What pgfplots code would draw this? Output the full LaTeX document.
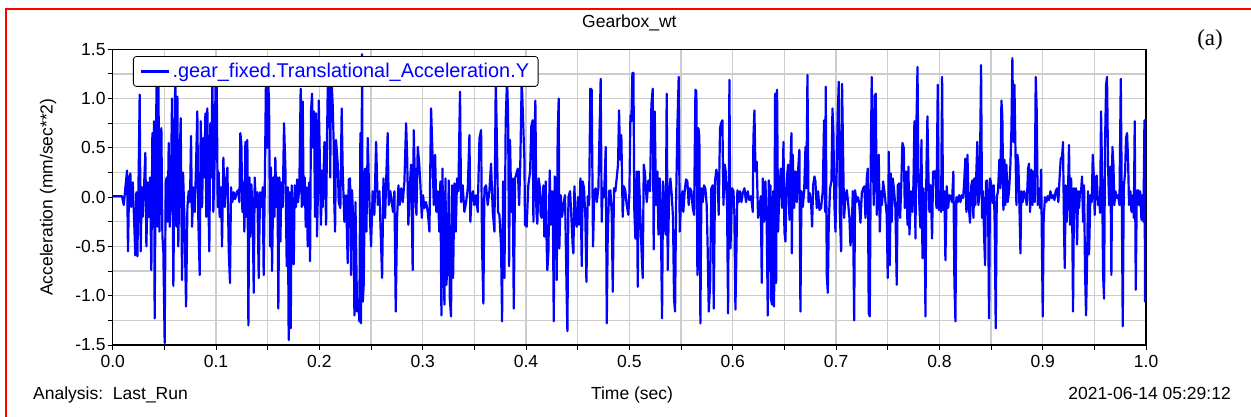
\documentclass[border=0pt]{standalone}
\usepackage{pgfplots}
\pgfplotsset{compat=1.18}
\usepackage{fontspec}
\setmainfont{Liberation Sans}
\newfontfamily\serif{Liberation Serif}
\newcommand\fsize{\fontsize{17.5bp}{21bp}\selectfont}
\newcommand\lsize{\fontsize{19.9bp}{23bp}\selectfont}
\begin{document}
\begin{tikzpicture}
\useasboundingbox (-112.7bp,-72bp) rectangle (1138.3bp,345bp);
\begin{axis}[
  at={(0,0)}, anchor=south west, scale only axis,
  width=1033.4bp, height=295.7bp,
  xmin=0, xmax=1, ymin=-1.5, ymax=1.5,
  xtick={0,0.1,0.2,0.3,0.4,0.5,0.6,0.7,0.8,0.9,1},
  xticklabels={0.0,0.1,0.2,0.3,0.4,0.5,0.6,0.7,0.8,0.9,1.0},
  minor xtick={0.05,0.15,0.25,0.35,0.45,0.55,0.65,0.75,0.85,0.95},
  ytick={-1.5,-1,-0.5,0,0.5,1,1.5},
  yticklabels={-1.5,-1.0,-0.5,0.0,0.5,1.0,1.5},
  minor ytick={-1.25,-0.75,-0.25,0.25,0.75,1.25},
  grid=both,
  major grid style={draw=gray!40, line width=1.2bp},
  minor grid style={draw=gray!40, line width=1.2bp},
  tick pos=left, tick align=outside,
  major tick length=5bp, minor tick length=5bp,
  every tick/.style={black, line width=1bp},
  axis line style={black, line width=1.3bp},
  tick label style={font=\fsize},
  xticklabel style={anchor=base, yshift=-17bp},
  yticklabel style={anchor=east, inner sep=0pt, xshift=-2bp},
  title={Gearbox\_wt},
  title style={font=\fsize, at={(axis description cs:0.5,1)}, anchor=base, yshift=15.8bp, inner sep=0pt},
  ylabel={Acceleration (mm/sec**2)},
  ylabel style={font=\fsize, at={(axis description cs:-0.0625,0.5)}, anchor=center},
  legend style={at={(axis description cs:0.0196,0.977)}, anchor=north west,
    draw=black, line width=0.8bp, rounded corners=3bp, fill=white,
    font=\lsize, text=blue, inner xsep=7bp, inner ysep=5bp},
  legend cell align=left,
  legend image code/.code={\draw[blue, line width=2.2bp] (0bp,0bp) -- (28bp,0bp);},
]
\addplot[blue, line width=2.2bp, line join=round, no markers] coordinates {
(0,0.01) (0.009,0.01) (0.0107,-0.08) (0.0123,0.1) (0.0139,0.27) (0.0148,-0.55) (0.016,0.2) (0.0171,0.24) (0.018,-0.1) (0.0194,0.15) (0.0206,-0.2) (0.0219,-0.59) (0.0229,0.05) (0.0239,-0.6) (0.0252,0.3) (0.0261,1.04) (0.0271,-0.55) (0.0281,0.1) (0.029,-0.2) (0.0303,0.1) (0.0316,0.45) (0.0326,-0.5) (0.0339,0.15) (0.0348,-0.2) (0.0361,0.2) (0.0374,-0.74) (0.0384,0.65) (0.0394,-0.3) (0.04,0.77) (0.0406,-1.23) (0.0416,0.3) (0.0426,1.3) (0.0435,-0.3) (0.0442,1.25) (0.0452,-0.35) (0.0461,0.3) (0.0471,0.7) (0.0481,-0.4) (0.049,-0.55) (0.0503,-1.48) (0.0513,0.15) (0.0523,0.2) (0.0532,-0.25) (0.0542,0.55) (0.0552,-0.3) (0.0565,0.2) (0.0574,1.0) (0.0587,-0.9) (0.0597,0.3) (0.0606,1.3) (0.0616,-0.3) (0.0626,1.02) (0.0635,-0.5) (0.0645,0.2) (0.0658,0.8) (0.0671,-0.84) (0.0681,0.25) (0.0694,-0.2) (0.071,-1.11) (0.0723,-0.1) (0.0735,0.06) (0.0748,-0.05) (0.0758,0.62) (0.0768,-0.3) (0.0781,0.1) (0.0794,-0.15) (0.0806,0.3) (0.0819,0.87) (0.0829,-0.25) (0.0842,-0.79) (0.0852,0.77) (0.0865,-0.1) (0.0877,0.6) (0.0887,0.2) (0.0897,0.85) (0.0906,-0.2) (0.0916,0.9) (0.0926,-0.05) (0.0935,-0.55) (0.0945,0.75) (0.0955,0.2) (0.0965,1.3) (0.0974,-0.15) (0.0987,0.4) (0.0997,1.3) (0.1006,1.25) (0.1016,-0.1) (0.1026,0.25) (0.1035,-0.2) (0.1048,0.1) (0.1058,-0.5) (0.1071,0.4) (0.1084,-0.1) (0.1097,0.15) (0.111,0.3) (0.1123,-0.55) (0.1135,-0.87) (0.1145,0.1) (0.1158,-0.05) (0.1171,0.05) (0.1184,-0.02) (0.12,0.05) (0.1213,0.07) (0.1226,-0.05) (0.1235,0.65) (0.1245,0.55) (0.1255,-0.15) (0.1265,0.15) (0.1274,-0.35) (0.1284,0.56) (0.1294,-0.2) (0.1303,0.58) (0.1313,-1.3) (0.1323,0.2) (0.1332,-0.4) (0.1342,0.13) (0.1355,-0.2) (0.1365,-0.97) (0.1374,0.2) (0.1387,-0.1) (0.14,0.05) (0.1413,-0.82) (0.1426,0.05) (0.1439,-0.1) (0.1452,0.1) (0.1461,-0.79) (0.1474,0.3) (0.1484,1.3) (0.1494,0.5) (0.1503,1.2) (0.1513,0.97) (0.1523,-0.5) (0.1532,0.3) (0.1542,-0.75) (0.1555,0.2) (0.1565,-0.2) (0.1574,0.4) (0.1584,-0.1) (0.1594,0.2) (0.1603,-1.13) (0.1613,0.2) (0.1623,-0.45) (0.1632,0.15) (0.1645,-0.1) (0.1658,0.75) (0.1671,0.3) (0.1684,-0.7) (0.1694,0.1) (0.1703,-1.45) (0.1713,0.05) (0.1723,-1.33) (0.1732,0.12) (0.1742,-0.45) (0.1752,-0.68) (0.1761,0.12) (0.1774,-0.1) (0.1784,0.18) (0.1794,-0.05) (0.1806,0.1) (0.1819,1.1) (0.1829,-0.1) (0.1839,0.97) (0.1848,-0.08) (0.1858,0.2) (0.1868,-0.3) (0.1877,0.1) (0.1887,-0.5) (0.19,0.15) (0.191,-0.65) (0.1919,0.87) (0.1929,1.05) (0.1939,0.5) (0.1948,0.87) (0.1958,-0.2) (0.1968,0.85) (0.1977,-0.4) (0.1987,0.1)
(0.1994,0.98) (0.2016,-0.28) (0.2023,0.27) (0.2032,-0.1) (0.2049,0.56) (0.2065,-0.28) (0.2074,0.6) (0.2081,1.1) (0.2097,1.3) (0.2105,0.2) (0.2113,1.3) (0.2129,0.93) (0.2139,0.53) (0.2145,-0.08) (0.2152,-0.35) (0.2161,0.58) (0.2178,0.33) (0.2187,-0.05) (0.2203,-0.11) (0.2216,0.9) (0.2226,0.26) (0.2242,-0.25) (0.2258,0.02) (0.2274,-0.67) (0.2284,0.18) (0.2297,0.19) (0.2307,-0.79) (0.2316,0.07) (0.2332,-0.35) (0.2339,-1.2) (0.2349,-0.05) (0.2365,-1.16) (0.2378,-1.06) (0.2387,-1.26) (0.2397,0.65) (0.2403,-1.28) (0.2413,1.45) (0.242,-1.06) (0.2429,-0.89) (0.2442,0.29) (0.2455,-0.35) (0.2468,0.6) (0.2484,-0.05) (0.25,-0.5) (0.2516,0.06) (0.2532,-0.18) (0.2549,0.56) (0.2565,-0.08) (0.2581,0.06) (0.2597,-0.48) (0.2607,-0.82) (0.262,0.19) (0.2636,-0.21) (0.2649,0.26) (0.2661,0.65) (0.2671,-0.08) (0.2687,0.06) (0.27,-0.05) (0.2713,-0.15) (0.2726,0.06) (0.2739,-1.16) (0.2752,-0.21) (0.2765,0.12) (0.2778,-0.08) (0.2791,0.09) (0.2807,-0.05) (0.2823,0.16) (0.2839,0.75) (0.2849,0.43) (0.2861,-0.28) (0.2874,0.09) (0.2887,0.33) (0.2903,-0.74) (0.2913,0.68) (0.2926,0.12) (0.2939,-0.18) (0.2952,0.51) (0.2965,0.36) (0.2978,0.12) (0.2991,-0.21) (0.3003,0.02) (0.3016,-0.11) (0.3032,-0.05) (0.3049,-0.15) (0.3065,-0.35) (0.3081,0.9) (0.3094,0.46) (0.3107,-0.08) (0.312,0.43) (0.3132,-0.15) (0.3145,0.06) (0.3161,-0.35) (0.3171,0.16) (0.3181,-1.2) (0.3191,0.29) (0.32,-0.54) (0.321,-1.09) (0.322,0.19) (0.3229,-0.89) (0.3242,-0.65) (0.3252,0.17) (0.3262,-1.03) (0.3274,-1.21) (0.3284,0.12) (0.3294,-0.82) (0.3307,0.14) (0.332,-0.35) (0.3332,0.19) (0.3345,0.06) (0.3361,1.07) (0.3371,-0.05) (0.3387,0.12) (0.3403,-0.15) (0.342,-0.05) (0.3436,0.09) (0.3452,0.63) (0.3461,-0.25) (0.3474,0.02) (0.3487,0.06) (0.35,-0.08) (0.3516,0.02) (0.3532,-0.15) (0.3549,0.6) (0.3565,0.68) (0.3574,-0.5) (0.3587,-1.08) (0.3597,0.09) (0.3613,0.12) (0.3629,-0.08) (0.3645,0.06) (0.3661,0.34) (0.3678,-0.15) (0.3694,-0.35) (0.3707,1.2) (0.3716,0.67) (0.3729,-0.15) (0.3742,-0.18) (0.3758,-0.49) (0.3768,-1.26) (0.3778,0.16) (0.3791,-0.82) (0.3803,0.77) (0.3816,1.2) (0.3826,0.85) (0.3836,-0.7) (0.3845,0.58) (0.3858,-0.15) (0.3871,0.19) (0.3881,-1.13) (0.3894,0.19) (0.3907,0.24) (0.392,0.29) (0.3933,-0.08) (0.3945,0.38) (0.3958,1.2)
(0.3984,0.38) (0.399,-0.28) (0.4006,-0.3) (0.4022,0.12) (0.4039,0.26) (0.4051,0.72) (0.4064,0.78) (0.4071,-0.25) (0.408,0.51) (0.409,0.98) (0.41,-0.15) (0.4109,-0.27) (0.4122,0.19) (0.4135,0.09) (0.4141,-0.18) (0.4151,-0.21) (0.4168,0.12) (0.4177,-0.4) (0.419,0.16) (0.42,-0.52) (0.4206,-0.74) (0.4216,-0.57) (0.4229,0.27) (0.4239,-0.28) (0.4251,0.06) (0.4261,-0.35) (0.4268,-1.26) (0.4277,0.21) (0.429,0.16) (0.4297,-0.84) (0.4306,0.65) (0.4316,1.0) (0.4322,-0.52) (0.4335,0.02) (0.4348,-0.2) (0.4361,-0.08) (0.4377,0.02) (0.4393,-0.99) (0.44,-1.36) (0.441,0.0) (0.4426,0.06) (0.4442,-0.28) (0.4451,-0.49) (0.4458,-0.57) (0.4468,0.11) (0.448,-0.25) (0.449,-0.3) (0.4503,0.0) (0.4513,-0.28) (0.4526,0.19) (0.4539,-0.7) (0.4548,0.16) (0.4561,0.09) (0.4574,-0.21) (0.4584,-0.86) (0.4597,0.01) (0.461,-0.08) (0.4622,1.1) (0.4635,1.09) (0.4648,-0.5) (0.4661,0.06) (0.4674,0.09) (0.4684,-0.05) (0.47,0.09) (0.471,0.61) (0.4722,1.2) (0.4732,-0.25) (0.4742,0.09) (0.4755,0.0) (0.4771,0.51) (0.4781,-1.28) (0.479,-0.42) (0.4803,0.06) (0.4816,0.07) (0.4829,-0.16) (0.4839,-0.96) (0.4851,0.09) (0.4864,0.06) (0.4877,0.19) (0.489,0.33) (0.49,0.88) (0.491,0.38) (0.4922,0.63) (0.4935,-0.2) (0.4948,0.11) (0.4961,0.06) (0.4974,-0.08) (0.499,-0.18) (0.5,0.04) (0.501,0.83) (0.5019,0.77) (0.5029,1.26) (0.5039,1.26) (0.5048,-0.15) (0.5058,-0.42) (0.5071,0.26) (0.5081,-0.91) (0.509,0.26) (0.5103,-0.08) (0.5119,-0.59) (0.5129,-0.82) (0.5139,0.33) (0.5151,0.24) (0.5168,-0.05) (0.5184,0.17) (0.52,0.06) (0.5213,0.94) (0.5226,1.1) (0.5235,-0.53) (0.5245,0.87) (0.5258,-0.08) (0.5271,0.26) (0.5281,-0.38) (0.5293,0.19) (0.5303,-0.11) (0.5316,-1.23) (0.5326,0.16) (0.5339,-0.28) (0.5352,-0.38) (0.5361,1.05) (0.5371,-0.74) (0.5384,0.02) (0.5397,0.19) (0.541,0.02) (0.5422,-0.21) (0.5432,-1.03) (0.5442,-1.16) (0.5452,-0.05) (0.5464,0.7) (0.5477,1.22) (0.5487,-0.35) (0.55,-0.05) (0.5513,0.06) (0.5522,-0.15) (0.5535,0.06) (0.5548,0.18) (0.5561,0.16) (0.5574,-0.08) (0.5587,0.09) (0.56,0.06) (0.5613,-0.11) (0.5626,-0.18) (0.5639,1.09) (0.5648,1.07) (0.5658,-0.79) (0.5668,0.7) (0.5677,0.61) (0.5687,-1.28) (0.5697,0.09) (0.571,-0.05) (0.5722,0.12) (0.5735,0.09) (0.5748,-0.08) (0.5758,-0.55) (0.5768,-1.16) (0.5781,-0.89) (0.5793,0.09) (0.5806,0.12) (0.5816,-1.13) (0.5829,0.17) (0.5842,0.28) (0.5855,0.16) (0.5864,-0.18) (0.5877,0.7) (0.5887,0.75) (0.59,0.78) (0.591,-0.08) (0.5922,0.33) (0.5932,0.26) (0.5945,-0.08) (0.5955,-1.18)
(0.5968,1.19) (0.5978,-0.52) (0.5994,0.09) (0.6007,0.06) (0.6016,-0.18) (0.6026,-1.14) (0.6032,-0.79) (0.6045,0.07) (0.6058,-0.05) (0.6071,0.06) (0.6084,-0.05) (0.6097,0.04) (0.6113,0.09) (0.6129,-0.05) (0.6145,0.06) (0.6161,-0.03) (0.6178,0.01) (0.6194,-0.15) (0.62,0.6) (0.621,0.88) (0.622,0.26) (0.6232,0.36) (0.6245,-0.21) (0.6258,-0.13) (0.6271,0.01) (0.6281,-0.87) (0.6291,0.19) (0.6303,-0.25) (0.6316,0.16) (0.6329,-0.28) (0.6339,-1.2) (0.6349,0.17) (0.6355,-0.75) (0.6365,0.12) (0.6371,-1.04) (0.6381,-1.09) (0.6391,0.06) (0.64,-1.11) (0.641,1.05) (0.642,-0.87) (0.6429,1.09) (0.6439,-0.35) (0.6452,0.09) (0.6465,0.29) (0.6478,-0.11) (0.6491,0.56) (0.65,-0.35) (0.651,-0.45) (0.6523,0.19) (0.6536,0.33) (0.6549,-0.23) (0.6558,0.31) (0.6568,0.65) (0.6572,-0.57) (0.6581,0.43) (0.6594,-0.11) (0.6607,0.26) (0.662,-0.05) (0.6633,0.28) (0.6645,0.48) (0.6655,-1.16) (0.6665,0.06) (0.6678,-0.1) (0.6691,0.06) (0.6704,0.51) (0.6713,0.09) (0.6723,1.24) (0.6733,-0.05) (0.6746,0.04) (0.6758,-0.05) (0.6768,-0.3) (0.6778,0.12) (0.6791,0.21) (0.68,0.16) (0.6813,-0.11) (0.6826,0.06) (0.6839,-0.13) (0.6855,-0.11) (0.6871,0.06) (0.6884,0.78) (0.6894,-0.15) (0.69,1.12) (0.691,-0.79) (0.692,-0.97) (0.6929,-0.28) (0.6942,0.09) (0.6955,0.16) (0.6965,0.9) (0.6974,0.66) (0.6984,-0.08) (0.6994,-0.35) (0.7004,0.16) (0.7016,0.83) (0.7026,1.17) (0.7036,-0.16) (0.7049,-0.55) (0.7058,1.15) (0.7068,0.43) (0.7078,-0.21) (0.7091,0.02) (0.7104,0.07) (0.7116,-0.05) (0.7129,-0.21) (0.7139,-0.49) (0.7149,-0.4) (0.7162,0.06) (0.7175,-1.25) (0.7184,0.07) (0.7197,-0.05) (0.721,0.0) (0.7223,-0.05) (0.7236,-0.26) (0.7249,0.04) (0.7262,0.09) (0.7275,0.11) (0.7284,-0.21) (0.7297,0.19) (0.7307,0.29) (0.7316,-1.18) (0.7326,-1.21) (0.7336,0.39) (0.7345,1.22) (0.7355,0.43) (0.7365,-0.08) (0.7375,1.03) (0.7384,1.05) (0.7394,-0.18) (0.7404,0.26) (0.7413,0.43) (0.7423,-0.35) (0.7436,0.06) (0.7445,-0.08) (0.7455,0.16) (0.7468,0.06) (0.7481,-0.08) (0.749,-0.18) (0.75,-0.82) (0.751,0.46) (0.752,-0.69) (0.7529,0.24) (0.7539,-0.25) (0.7549,0.19) (0.7562,0.06) (0.7574,-0.11) (0.7587,-0.89) (0.7597,0.12) (0.761,0.14) (0.762,-0.21) (0.7632,0.16) (0.7642,0.55) (0.7655,0.5) (0.7665,-0.11) (0.7678,0.26) (0.7691,-0.28) (0.77,0.31) (0.771,-0.38) (0.7726,0.06) (0.7739,-0.15) (0.7749,0.14) (0.7758,0.77) (0.7768,-0.42) (0.7778,0.77) (0.7788,1.32) (0.7797,0.19) (0.7807,-0.11) (0.7816,-0.31) (0.7826,0.58) (0.7836,-0.62) (0.7845,0.09) (0.7855,-0.08) (0.7865,-1.21) (0.7874,0.26) (0.7884,0.82) (0.7894,0.21) (0.7903,-0.15) (0.7916,0.12) (0.7929,-0.42) (0.7939,0.26) (0.7952,0.26)
(0.7961,0.26) (0.7971,-0.11) (0.7984,1.14) (0.7993,-0.13) (0.8006,0.06) (0.8016,-0.15) (0.8026,1.22) (0.8035,-0.13) (0.8048,0.06) (0.8058,-0.64) (0.8071,0.11) (0.8084,-0.11) (0.8097,0.02) (0.811,0.0) (0.8122,-0.05) (0.8135,0.26) (0.8145,-0.86) (0.8155,-1.26) (0.8164,0.0) (0.8177,-0.05) (0.819,0.02) (0.8203,-0.05) (0.8216,0.02) (0.8229,-0.01) (0.8238,0.12) (0.8251,0.39) (0.8261,-0.15) (0.8271,0.43) (0.8284,-0.08) (0.8296,-0.26) (0.8309,0.12) (0.8319,0.17) (0.8329,-0.21) (0.8338,0.19) (0.8348,-0.08) (0.8358,0.28) (0.8367,0.56) (0.8377,-0.08) (0.839,0.06) (0.8403,1.34) (0.8413,-0.21) (0.8422,0.06) (0.8432,-0.38) (0.8442,-0.69) (0.8451,0.16) (0.8461,0.17) (0.8471,-0.08) (0.848,-1.23) (0.849,0.19) (0.8503,0.12) (0.8513,-0.06) (0.8526,0.12) (0.8535,-0.28) (0.8545,-1.33) (0.8555,0.0) (0.8567,0.06) (0.858,0.38) (0.859,0.09) (0.86,0.98) (0.8609,0.82) (0.8619,-0.13) (0.8629,0.38) (0.8638,-0.08) (0.8648,0.33) (0.8661,-0.05) (0.8674,0.06) (0.8687,0.33) (0.8697,0.7) (0.8706,1.41) (0.8716,0.56) (0.8726,1.14) (0.8735,0.53) (0.8745,-0.08) (0.8755,0.43) (0.8764,0.34) (0.8774,-0.08) (0.8784,-0.57) (0.8793,0.06) (0.8806,-0.05) (0.8819,0.06) (0.8832,0.02) (0.8845,-0.08) (0.8858,0.29) (0.8867,0.34) (0.8877,-0.15) (0.889,0.28) (0.89,-0.08) (0.8909,0.26) (0.8922,-0.05) (0.8932,1.22) (0.8942,0.87) (0.8951,-0.08) (0.8961,0.09) (0.8974,-0.11) (0.8984,0.28) (0.8993,-0.58) (0.9,-1.21) (0.9009,-0.21) (0.9022,0.0) (0.9035,-0.05) (0.9048,0.01) (0.9061,-0.03) (0.9074,0.06) (0.9087,-0.01) (0.91,0.02) (0.9113,-0.03) (0.9125,0.06) (0.9138,0.09) (0.9151,-0.05) (0.9161,0.16) (0.9174,0.39) (0.9187,0.41) (0.9196,0.56) (0.9206,-0.35) (0.9213,-0.72) (0.9222,0.12) (0.9232,-0.25) (0.9245,0.09) (0.9254,0.53) (0.9264,-0.28) (0.9274,0.19) (0.9284,-0.08) (0.9293,-1.16) (0.9303,0.09) (0.9313,-0.15) (0.9322,0.09) (0.9332,-0.48) (0.9342,0.06) (0.9351,-0.11) (0.9361,0.06) (0.9371,0.06) (0.938,0.21) (0.939,-0.25) (0.94,0.12) (0.9409,-0.75) (0.9419,-1.2) (0.9429,-0.65) (0.9438,0.06) (0.9448,-0.58) (0.9461,0.02) (0.9474,-0.05) (0.9484,0.43) (0.9493,0.24) (0.9503,-0.18) (0.9513,0.19) (0.9522,0.22) (0.9535,-0.08) (0.9545,0.0) (0.9555,-0.16) (0.9564,0.87) (0.9574,0.26) (0.9584,-0.79) (0.9593,-1.03) (0.9603,0.56) (0.9613,1.14) (0.9622,1.22) (0.9632,0.32) (0.9642,-0.08) (0.9655,0.31) (0.9664,-0.79) (0.9674,0.51) (0.9684,0.33) (0.9693,-0.08) (0.9703,0.06) (0.9716,-0.01) (0.9729,0.02) (0.9742,-0.08) (0.9755,1.2) (0.9764,0.09) (0.9774,-1.31) (0.9784,0.09) (0.9797,0.26) (0.9806,0.6) (0.9816,0.65) (0.9826,0.36) (0.9835,-0.08) (0.9848,0.06) (0.9858,-0.15) (0.9871,0.02) (0.9881,-0.21) (0.989,0.77) (0.99,-0.94) (0.991,0.06) (0.9922,0.07) (0.9932,-0.08) (0.9942,0.06) (0.9955,-0.23) (0.9964,0.02) (0.9974,-0.25) (0.9984,0.78) (0.999,-1.06) (0.9994,0.77) (1.0,0.29)
};
\addlegendentry{.gear\_fixed.Translational\_Acceleration.Y}
\end{axis}
\draw[red, line width=1.2bp] (-106.7bp,-72bp) -- (-106.7bp,336bp) -- (1140bp,336bp);
\node[font=\serif\fontsize{23bp}{26bp}\selectfont, anchor=center] at (1097.3bp,305bp) {(a)};
\node[font=\fsize, anchor=base west, inner sep=0pt] at (-79.7bp,-54bp) {Analysis:\ \ Last\_Run};
\node[font=\fsize, anchor=base, inner sep=0pt] at (519.3bp,-54bp) {Time (sec)};
\node[font=\fsize, anchor=base east, inner sep=0pt] at (1118.3bp,-54bp) {2021-06-14 05:29:12};
\end{tikzpicture}
\end{document}
